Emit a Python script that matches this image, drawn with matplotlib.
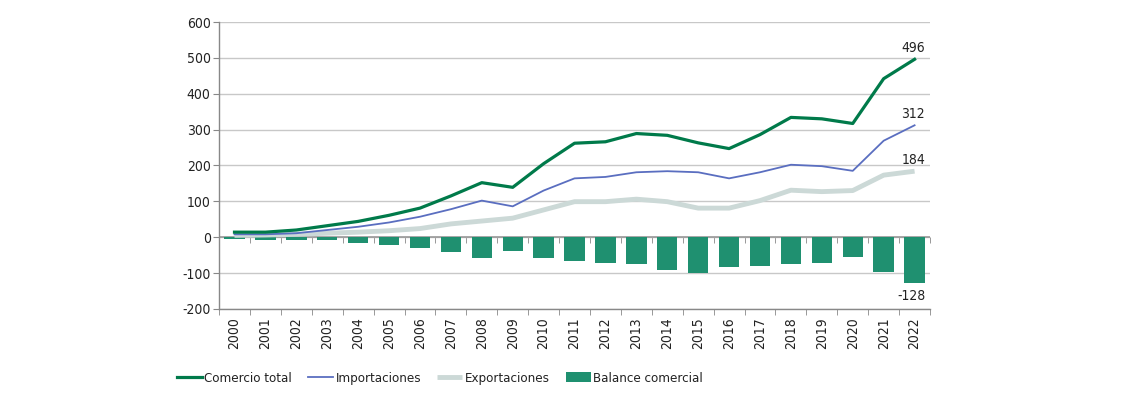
import matplotlib
matplotlib.use("Agg")
import matplotlib.pyplot as plt
import numpy as np
from matplotlib.ticker import FixedLocator, NullFormatter

plt.rcParams['font.family'] = ['DejaVu Sans']
plt.rcParams['font.stretch'] = 'condensed'

years = [str(y) for y in range(2000, 2023)]
comercio_total = [14, 14, 20, 32, 44, 61, 81, 115, 152, 139, 205, 262, 266, 289, 284, 263, 247, 286, 334, 330, 317, 442, 496]
importaciones = [8, 8, 11, 20, 29, 41, 57, 78, 102, 86, 130, 164, 168, 181, 184, 181, 164, 181, 202, 198, 185, 269, 312]
exportaciones = [5, 6, 8, 11, 14, 18, 24, 37, 45, 53, 76, 99, 99, 106, 99, 81, 81, 102, 131, 127, 130, 173, 184]
balance = [-4, -8, -8, -8, -17, -21, -30, -42, -58, -38, -59, -67, -72, -75, -92, -101, -84, -80, -75, -72, -55, -96, -128]
yticks = [-200, -100, 0, 100, 200, 300, 400, 500, 600]

c_total = '#007A4A'
c_imp = '#5A6EC0'
c_exp = '#CCD9D7'
c_bal = '#1F9070'
grid_c = '#C8C8C8'
txt_c = '#222222'
fs = 10

fig = plt.figure(figsize=(11.25, 3.93), dpi=100)
ax = fig.add_axes([0.1947, 0.214, 0.632, 0.730])

x = np.arange(len(years))
h_bal = ax.bar(x, balance, width=0.66, color=c_bal, zorder=2, label='Balance comercial')
h_exp, = ax.plot(x, exportaciones, color=c_exp, lw=3.5, zorder=3, label='Exportaciones', solid_capstyle='butt')
h_imp, = ax.plot(x, importaciones, color=c_imp, lw=1.3, zorder=4, label='Importaciones')
h_tot, = ax.plot(x, comercio_total, color=c_total, lw=2.3, zorder=5, label='Comercio total')

ax.set_xlim(-0.5, len(years) - 0.5)
ax.set_ylim(-200, 600)
ax.set_yticks(yticks)
ax.set_yticklabels([str(v) for v in yticks], fontsize=fs, color=txt_c)
ax.yaxis.grid(True, color=grid_c, lw=1, zorder=0)
ax.set_axisbelow(True)
ax.tick_params(axis='y', length=4, color='#888888', pad=2)

ax.set_xticks(x)
ax.set_xticklabels(years, rotation=90, fontsize=fs, color=txt_c)
ax.xaxis.set_minor_locator(FixedLocator(np.arange(-0.5, len(years), 1.0)))
ax.tick_params(axis='x', which='major', length=0, pad=6)
ax.tick_params(axis='x', which='minor', length=4, color='#888888')

for s in ['top', 'right']:
    ax.spines[s].set_visible(False)
for s in ['left', 'bottom']:
    ax.spines[s].set_color('#888888')
    ax.spines[s].set_linewidth(1)

# zero line with boundary ticks
ax.axhline(0, color='#999999', lw=1.2, zorder=1)
sec = ax.secondary_xaxis(0.25)
sec.set_xticks([])
sec.xaxis.set_minor_locator(FixedLocator(np.arange(-0.5, len(years), 1.0)))
sec.xaxis.set_minor_formatter(NullFormatter())
sec.tick_params(axis='x', which='minor', length=4, color='#888888', direction='out')
for s in sec.spines.values():
    s.set_visible(False)

n = len(years) - 1
ax.annotate(str(comercio_total[-1]), (x[n], comercio_total[-1]), xytext=(-1, 3), textcoords='offset points', ha='center', va='bottom', fontsize=fs, color=txt_c)
ax.annotate(str(importaciones[-1]), (x[n], importaciones[-1]), xytext=(-1, 3), textcoords='offset points', ha='center', va='bottom', fontsize=fs, color=txt_c)
ax.annotate(str(exportaciones[-1]), (x[n], exportaciones[-1]), xytext=(-1, 3), textcoords='offset points', ha='center', va='bottom', fontsize=fs, color=txt_c)
ax.annotate(str(balance[-1]), (x[n], balance[-1]), xytext=(-2, -4), textcoords='offset points', ha='center', va='top', fontsize=fs, color=txt_c)

leg = fig.legend([h_tot, h_imp, h_exp, h_bal], ['Comercio total', 'Importaciones', 'Exportaciones', 'Balance comercial'],
                 loc='center', bbox_to_anchor=(0.391, 0.038), ncol=4, frameon=False, fontsize=9.5,
                 handlelength=1.9, handletextpad=0.2, columnspacing=1.2)
for t in leg.get_texts():
    t.set_color(txt_c)

fig.savefig('out.png', dpi=100)
